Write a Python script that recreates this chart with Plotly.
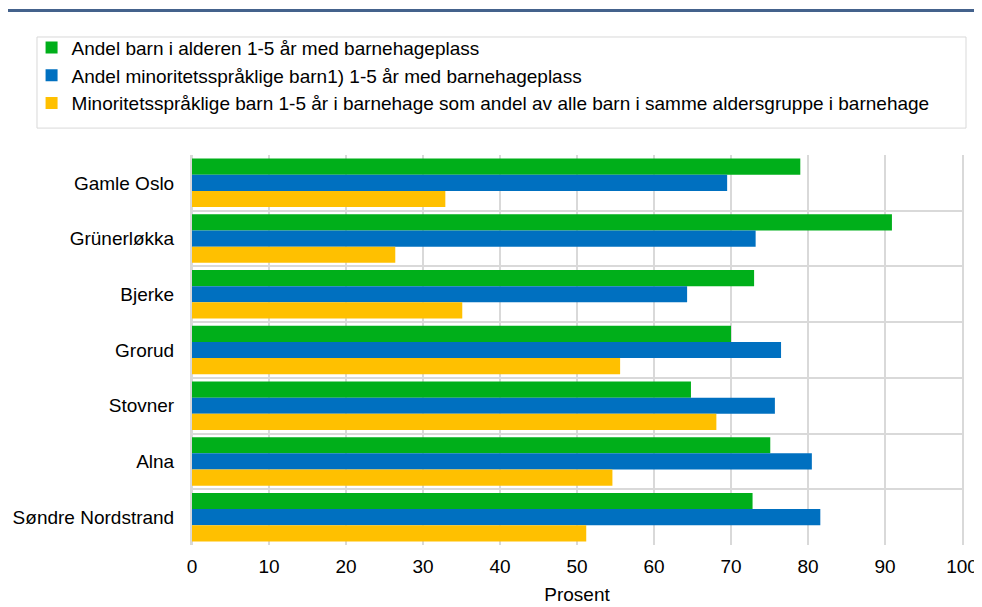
import plotly.graph_objects as go

bydeler = ["Gamle Oslo", "Grünerløkka", "Bjerke", "Grorud", "Stovner", "Alna", "Søndre Nordstrand"]
andel_alle = [79.0, 90.9, 73.0, 70.0, 64.8, 75.1, 72.8]
andel_minoritet = [69.5, 73.2, 64.3, 76.5, 75.7, 80.5, 81.6]
minoritet_av_alle = [32.9, 26.4, 35.1, 55.6, 68.1, 54.6, 51.2]

navn = [
    "Andel barn i alderen 1-5 år med barnehageplass",
    "Andel minoritetsspråklige barn1) 1-5 år med barnehageplass",
    "Minoritetsspråklige barn 1-5 år i barnehage som andel av alle barn i samme aldersgruppe i barnehage",
]
farger = ["#00AF1A", "#0070C0", "#FFC000"]

fig = go.Figure()
for serie, name, col in zip([andel_alle, andel_minoritet, minoritet_av_alle], navn, farger):
    fig.add_trace(go.Bar(
        x=serie, y=bydeler, name=name, orientation="h",
        marker=dict(color=col, line=dict(width=0)),
    ))

grid = "#D9D9D9"
# siden har 8 px kant, så marginene er trukket inn tilsvarende
fig.update_layout(
    width=982, height=607,
    margin=dict(l=184, r=28, t=147, b=70, autoexpand=False),
    barmode="group", bargap=0.13, bargroupgap=0,
    plot_bgcolor="white", paper_bgcolor="white",
    font=dict(family="Liberation Sans, Arial, sans-serif", size=19, color="#000000"),
    showlegend=True,
    legend=dict(
        xref="container", yref="container",
        x=0.024, xanchor="left", y=0.966, yanchor="top",
        bgcolor="rgba(0,0,0,0)", borderwidth=0,
        font=dict(size=19), tracegroupgap=0, itemwidth=30,
    ),
    xaxis=dict(
        range=[0, 100], dtick=10, tick0=0, automargin=False,
        showgrid=True, gridcolor=grid, gridwidth=2,
        showline=False, zeroline=True, zerolinecolor=grid, zerolinewidth=2,
        ticks="", ticklabelstandoff=8,
        title=dict(text="Prosent", standoff=11, font=dict(size=19)),
    ),
    yaxis=dict(
        type="category", autorange="reversed", automargin=False,
        tickson="boundaries", showgrid=True, gridcolor=grid, gridwidth=2,
        showline=True, linecolor=grid, linewidth=2, mirror=True,
        ticks="", ticklabelstandoff=12,
    ),
)

# ramme rundt forklaringen
fig.add_shape(type="rect", xref="paper", yref="paper",
              x0=-0.2013, x1=1.0052, y0=1.069, y1=1.3026,
              line=dict(color=grid, width=1), layer="below")
# blå linje under (avskåret) tittel
fig.add_shape(type="line", xref="paper", yref="paper",
              x0=-0.2455, x1=1.026, y0=1.3705, y1=1.3705,
              line=dict(color="#44628C", width=3))

fig.write_html("out.html")
